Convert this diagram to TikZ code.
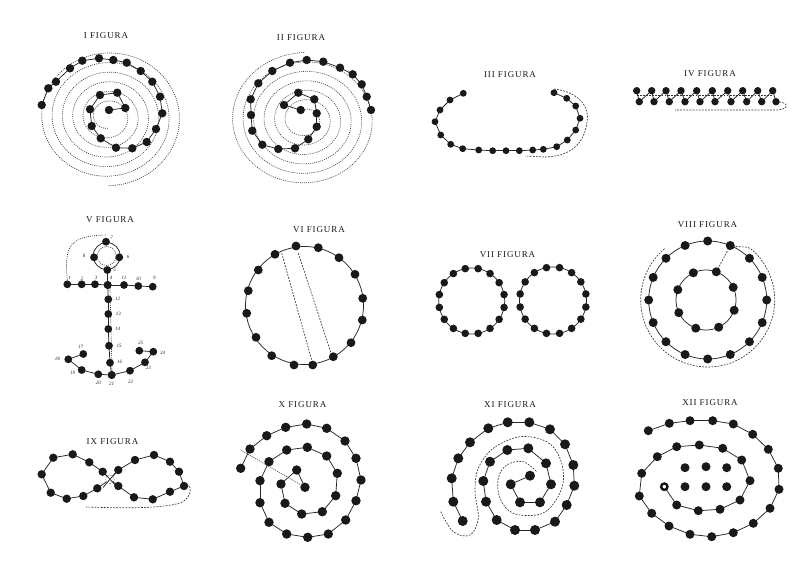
\documentclass[tikz,border=0pt]{standalone}
\usepackage{fontspec}
\usetikzlibrary{calc}
\setmainfont{Liberation Serif}
\newfontfamily\titlefont[LetterSpace=10]{Liberation Serif}
\newcommand\chainpts[2][3.6]{%
  \foreach \p [count=\i, remember=\p as \lastp] in {#2}{\ifnum\i>1 \draw[chainline] \lastp -- \p;\fi}%
  \foreach \p in {#2}{\fill[dotc] \p circle[radius=#1];}}
\begin{document}
\begin{tikzpicture}[x=1pt,y=-1pt,
  dotc/.style={fill=black!90},
  chainline/.style={line width=0.75pt, black!85},
  dots/.style={dash pattern=on 1pt off 1.1pt, line width=0.65pt, black!75},
  dashline/.style={dash pattern=on 1.8pt off 1.3pt, line width=0.65pt, black!80},
  ttl/.style={font=\titlefont\fontsize{9}{9}\selectfont, text=black!90, inner sep=0pt},
  num/.style={font=\fontsize{5}{5}\selectfont\itshape, inner sep=0pt, text=black!85}]
\fill[white] (0,0) rectangle (797,581);
\useasboundingbox (0,0) rectangle (797,581);

% titles
\node[ttl] (t1) at (106,36) {I FIGURA};
\node[ttl] (t2) at (301,38) {II FIGURA};
\node[ttl] (t3) at (510,75) {III FIGURA};
\node[ttl] (t4) at (710,74) {IV FIGURA};
\node[ttl] (t5) at (110,220) {V FIGURA};
\node[ttl] (t6) at (319,230) {VI FIGURA};
\node[ttl] (t7) at (507.5,255) {VII FIGURA};
\node[ttl] (t8) at (707.5,225) {VIII FIGURA};
\node[ttl] (t9) at (112.5,441.7) {IX FIGURA};
\node[ttl] (t10) at (302.5,405) {X FIGURA};
\node[ttl] (t11) at (510,405) {XI FIGURA};
\node[ttl] (t12) at (710,403) {XII FIGURA};

% ---------- I
\draw[dots] plot[domain=90:2250, samples=700] ({108+(12+(\x-90)/2160*62)*cos(\x)}, {117+0.93*(12+(\x-90)/2160*62)*sin(\x)});
\chainpts[4.2]{(41.7,105),(48.3,88.3),(56,81.7),(70,68.3),(82.3,60.7),(99,58.3),(113.3,60),(126.7,62.7),(140.7,71),(152.3,81.7),(160,96.7),(162.3,113.3),(156,129),(146.7,142),(132.3,148.3),(116,147.7),(100.7,138.3),(91.7,126),(90,109.3),(100,95),(117.3,92.7),(125.3,108),(109,110)}

% ---------- II
\draw[dots] plot[domain=-90:2070, samples=700] ({305+(12+(\x+90)/2160*63)*cos(\x)}, {120+0.9*(12+(\x+90)/2160*63)*sin(\x)});
\chainpts[4.2]{(371,110),(366.7,96.7),(361.7,84.3),(352.7,74.3),(340,67.7),(323.3,61.7),(306.7,60),(290,62.7),(272.3,71),(258.3,83.3),(250.7,99.3),(251,115),(252.3,130.7),(262.3,144.7),(278.3,149),(295,148.3),(308.3,139.3),(316.7,126.7),(316.7,113.3),(314.3,99.3),(298.3,92.7),(284,105),(300.7,110)}

% ---------- III
\draw[dashline] (554,89) .. controls (580,92) and (590,108) .. (587,122) .. controls (584,145) and (570,156) .. (545,157) -- (525,156);
\chainpts[3.4]{(463.3,93.3),(450,100),(440,110),(435,121.7),(440.7,135),(450.7,144.3),(462.7,148.7),(478.7,150),(492.7,150.7),(506,150.7),(519.3,150.7),(532.7,150),(543.3,149.3),(556.7,146.7),(567.3,140),(575.7,130),(580,118.3),(575.7,106),(566.7,98.3),(554,92.7)}

% ---------- IV
\draw[dashline] (636.7,95) -- (772.7,95);
\draw[dashline] (776,101.7) .. controls (790,102) and (790,110) .. (775,110) -- (675,110);
\foreach \a/\b in {636.7/639.3,651.7/654,666/669.3,681/685,696.7/700,712.3/715,727.7/731,742.7/746.7,757.7/761.7,772.7/776}{
  \draw[chainline] (\a,90.7) -- (\b,101.7);}
\foreach \b/\a in {639.3/651.7,654/666,669.3/681,685/696.7,700/712.3,715/727.7,731/742.7,746.7/757.7,761.7/772.7}{
  \draw[chainline] (\b,101.7) -- (\a,90.7);}
\foreach \a in {636.7,651.7,666,681,696.7,712.3,727.7,742.7,757.7,772.7}{\fill[dotc] (\a,90.7) circle[radius=3.7];}
\foreach \b in {639.3,654,669.3,685,700,715,731,746.7,761.7,776}{\fill[dotc] (\b,101.7) circle[radius=3.7];}

% ---------- V anchor
\draw[dots] (67.3,280) .. controls (64,245) and (70,236) .. (106,235);
\draw[chainline] (106.7,256) circle[radius=13.5];
\draw[dots] (106.7,256) circle[radius=9.5];
\draw[dots] (110,288) -- (112,372);
\chainpts[3.9]{(67.3,284.3),(81.7,284.3),(95,284.3),(107.7,285),(124,285),(138.3,286),(152.7,286.7)}
\chainpts[3.9]{(107.3,270),(107.7,285),(108.3,299.3),(108.3,314),(108.3,329),(109,345.7),(110,362.7),(111.7,375)}
\chainpts[3.9]{(83.3,354),(68.3,359.3),(81.7,370),(98.3,374.3),(111.7,375),(130,370.7),(145,362.3),(153.3,351.7),(139.3,350.7)}
\foreach \p in {(106,241.7),(94,257.3),(119.3,257.3)}{\fill[dotc] \p circle[radius=3.9];}
\node[num] (n7) at (111.5,238) {7};
\node[num] (n8) at (84,256) {8};
\node[num] (n6) at (128,257) {6};
\node[num] (n5) at (114.5,270) {5};
\node[num] (n1) at (69.5,277.5) {1};
\node[num] (n2) at (82,278.5) {2};
\node[num] (n3) at (96,277.5) {3};
\node[num] (n4) at (111,277.5) {4};
\node[num] (n11) at (124,277.5) {11};
\node[num] (n10) at (138.3,279) {10};
\node[num] (n9) at (154.3,278.3) {9};
\node[num] (n12) at (117.5,299.3) {12};
\node[num] (n13) at (118.3,314) {13};
\node[num] (n14) at (117.5,329) {14};
\node[num] (n15) at (119,345.7) {15};
\node[num] (n16) at (119.5,362.3) {16};
\node[num] (n17) at (80.7,346.7) {17};
\node[num] (n18) at (57.3,359.3) {18};
\node[num] (n19) at (72.7,373.3) {19};
\node[num] (n20) at (98.3,383.3) {20};
\node[num] (n21) at (111.7,384) {21};
\node[num] (n22) at (130.7,381.7) {22};
\node[num] (n23) at (148.3,368.3) {23};
\node[num] (n24) at (162.7,353.3) {24};
\node[num] (n25) at (140.7,342.7) {25};

% ---------- VI
\draw[chainline] (304.5,305.5) circle[radius=59];
\draw[dashline] (281.7,253.3) -- (311.7,360);
\draw[dashline] (298.3,253.3) -- (331.7,355);
\foreach \p in {(296,246),(318.3,247.7),(339,257.7),(355,274.3),(362.7,298.3),(362.3,320),(351,342.7),(333.3,356.7),(312.7,365),(294,365),(271.7,355.7),(256,337.3),(246.7,313.3),(248.3,290.7),(258.3,270),(275,254.3)}{\fill[dotc] \p circle[radius=4.4];}

% ---------- VII
\draw[chainline] (471.7,301) circle[radius=33];
\draw[chainline] (553,300.5) circle[radius=33.5];
\foreach \k in {0,...,15}{
  \fill[dotc] (471.7,301) ++(11.25+22.5*\k:33) circle[radius=3.8];
  \fill[dotc] (553,300.5) ++(11.25+22.5*\k:33.5) circle[radius=3.8];}

% ---------- VIII
\draw[dashline] (707.7,300) ++(-130:67) arc[start angle=-130, end angle=-410, radius=67] .. controls +(-150:6) and +(20:6) .. ($(707.7,300)+(-67.5:59)$);
\draw[chainline] (707.7,300) circle[radius=59];
\draw[chainline] (706,300) circle[radius=30];
\draw[dashline] ($(706,300)+(-70:30)$) -- ($(707.7,300)+(-67.5:59)$);
\foreach \k in {0,...,15}{\fill[dotc] (707.7,300) ++(22.5*\k:59) circle[radius=4.5];}
\foreach \k in {0,...,7}{\fill[dotc] (706,300) ++(-70+45*\k:30) circle[radius=4.5];}

% ---------- IX
\draw[dashline] (184,486) .. controls (192,480) and (194,498) .. (180,503) .. controls (160,509) and (120,508) .. (86,507);
\chainpts[4.2]{(110,479.3),(118.3,470),(135,460),(154,455),(170,461.7),(179,471.7),(184,486),(170,491.7),(152.7,499.3),(134,497.3),(118.3,486),(110,479.3),(102.7,471.7),(89.3,462.3),(72.7,454.3),(53.3,457.7),(41.7,474.3),(50.7,492.7),(66.7,498.7),(83.3,496),(97.3,488.3),(110,479.3)}
\fill[white] (110,479.3) circle[radius=4.3];
\draw[chainline] (103,471.5) -- (117,487) (103,487.5) -- (117,471);

% ---------- X
\draw[dots] (240.7,450) -- (305,487.3);
\chainpts[4.7]{(240.7,468.3),(250,449),(266.7,435.7),(285.7,427.3),(306.7,424),(326.7,428.3),(345,441),(356,458.3),(361,480),(356,500.7),(345.7,520),(328.3,534),(307.7,537.3),(286.7,534),(269,522.3),(260,502.7),(260,480.7),(269,461.7),(286.7,450),(307.3,447.3),(326.7,456),(337.3,473.3),(335.7,495.7),(322.3,511.7),(301.7,514),(285,503.3),(281,484),(296.7,470),(305,487.3)}

% ---------- XI
\draw[dashline] plot[smooth, tension=0.6] coordinates {(440.7,511.7) (453.3,531.7) (470,535) (478.3,518.3) (475,491.7) (478.3,468.3) (493.3,448.3) (520,436.7) (546.7,441.7) (560,458.3) (563.3,481.7) (555,501.7) (540,514.3) (513.3,513.3) (500,498.3) (498.3,478.3) (506.7,465) (523.3,461.7) (536.7,471.7)};
\chainpts[5]{(462.7,521),(453.3,501.7),(451.7,478.3),(458.3,458.3),(470,442.3),(488.3,428.3),(507.7,422.3),(529.3,422.3),(550,429.3),(565,444.3),(573.3,465),(574.3,485.7),(566.7,505),(555,521.7),(535,530),(515,530),(496.7,520),(486,501.7),(483.3,481),(490,461.7),(507.3,450),(528.3,448.3),(546,463.3),(551,484.3),(540,502.3),(520,502.3),(510.7,484.3),(530,475.7)}

% ---------- XII
\chainpts[4.5]{(648.3,430.7),(669.3,423.3),(690,420.7),(712.7,420.7),(733.3,424),(752.7,434.3),(768.3,449.3),(778.3,468.3),(779,489.3),(770,508.3),(753.3,523.3),(733.3,532.7),(711.7,536.7),(690,534.3),(669,526),(651.7,513.3),(639.3,496),(641.7,473.3),(657.3,456.7),(676.7,446.7),(699.3,445),(722.7,448.3),(741.7,460),(750,480.7),(740,500),(720,509.3),(698.3,510.7),(676.7,505),(664.3,486.7)}
\draw[fill=white, line width=0.8pt] (664.3,486.7) circle[radius=2.4];
\foreach \p in {(685,467.7),(706,466.7),(726.7,467.7),(685,486.7),(706,486.7),(726.7,486.7)}{\fill[dotc] \p circle[radius=4.5];}
\end{tikzpicture}
\end{document}
